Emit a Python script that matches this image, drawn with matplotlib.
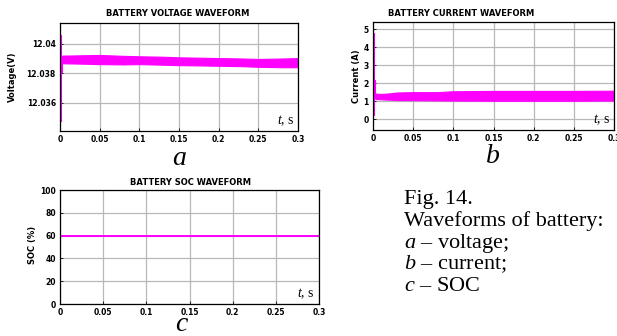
import matplotlib
matplotlib.use("Agg")
import matplotlib.pyplot as plt

plt.rcParams['mathtext.fontset'] = 'custom'
plt.rcParams['mathtext.rm'] = 'Liberation Serif'
plt.rcParams['mathtext.it'] = 'Liberation Serif:italic'

MAGENTA = '#ff00ff'
W, H = 617, 336

# --- data ---
x_ticks = [0, 0.05, 0.1, 0.15, 0.2, 0.25, 0.3]
x_labels = ['0', '0.05', '0.1', '0.15', '0.2', '0.25', '0.3']

# voltage ripple band (upper / lower envelope)
v_t = [0.003, 0.01, 0.03, 0.05, 0.08, 0.1, 0.13, 0.15, 0.18, 0.2, 0.23, 0.25, 0.28, 0.3]
v_hi = [12.03920, 12.03920, 12.03922, 12.03924, 12.03918, 12.03915, 12.03912,
        12.03908, 12.03905, 12.03903, 12.03900, 12.03897, 12.03900, 12.03903]
v_lo = [12.03868, 12.03867, 12.03865, 12.03862, 12.03860, 12.03862, 12.03858,
        12.03855, 12.03853, 12.03851, 12.03848, 12.03844, 12.03841, 12.03841]
# start-up transient of voltage
v_spike_t = [0.0012, 0.0028]
v_spike_lo = [12.0347, 12.0380]
v_spike_hi = [12.0406, 12.0392]
v_yticks = [12.036, 12.038, 12.04]
v_ylabels = ['12.036', '12.038', '12.04']

# current ripple band
i_t = [0.003, 0.01, 0.02, 0.03, 0.05, 0.08, 0.1, 0.15, 0.2, 0.25, 0.3]
i_hi = [1.42, 1.40, 1.43, 1.48, 1.50, 1.50, 1.55, 1.57, 1.57, 1.57, 1.58]
i_lo = [1.12, 1.10, 1.08, 1.06, 1.05, 1.04, 1.03, 1.02, 1.02, 1.02, 1.03]
i_spike_t = [0.0012, 0.0028]
i_spike_lo = [0.15, 1.10]
i_spike_hi = [4.80, 2.20]
i_yticks = [0, 1, 2, 3, 4, 5]

# state of charge
soc_t = [0, 0.3]
soc = [60, 60]
soc_yticks = [0, 20, 40, 60, 80, 100]

caption = ['Fig. 14.', 'Waveforms of battery:',
           '$a$ – voltage;', '$b$ – current;', '$c$ – SOC']


def px_axes(fig, left, top, right, bottom):
    return fig.add_axes([left / W, 1 - bottom / H, (right - left) / W, (bottom - top) / H])


def style(ax):
    ax.grid(True, color='#b8b8b8', lw=0.9)
    ax.set_axisbelow(True)
    for s in ax.spines.values():
        s.set_color('black')
        s.set_linewidth(0.9)
    ax.tick_params(direction='in', length=2, width=0.6, labelsize=5.5, pad=3)
    ax.set_xlim(0, 0.3)
    ax.set_xticks(x_ticks, x_labels)
    for lab in ax.get_xticklabels() + ax.get_yticklabels():
        lab.set_fontweight('bold')
    ax.text(0.985, 0.03, '$t$, s', transform=ax.transAxes, ha='right', va='bottom',
            fontsize=10, family='Liberation Serif')


def ptext(fig, x, y, s, **kw):
    fig.text(x / W, 1 - y / H, s, **kw)


fig = plt.figure(figsize=(W / 100, H / 100), dpi=100)

# a - voltage
ax1 = px_axes(fig, 60, 23, 298, 131)
ax1.fill_between(v_t, v_lo, v_hi, color=MAGENTA, lw=0.8, edgecolor=MAGENTA)
ax1.vlines(v_spike_t, v_spike_lo, v_spike_hi, color=MAGENTA, lw=1.5)
ax1.set_ylim(12.0341, 12.0414)
ax1.set_yticks(v_yticks, v_ylabels)
style(ax1)

# b - current
ax2 = px_axes(fig, 373, 22, 614, 130)
ax2.fill_between(i_t, i_lo, i_hi, color=MAGENTA, lw=0.8, edgecolor=MAGENTA)
ax2.vlines(i_spike_t, i_spike_lo, i_spike_hi, color=MAGENTA, lw=1.5)
ax2.set_ylim(-0.61, 5.41)
ax2.set_yticks(i_yticks)
style(ax2)

# c - SOC
ax3 = px_axes(fig, 60, 190, 319, 304)
ax3.plot(soc_t, soc, color=MAGENTA, lw=1.4)
ax3.set_ylim(0, 100)
ax3.set_yticks(soc_yticks)
style(ax3)

# titles and axis labels
tkw = dict(fontsize=6, fontweight='bold', ha='center', va='center')
ptext(fig, 178, 13, 'BATTERY VOLTAGE WAVEFORM', **tkw)
ptext(fig, 461, 13, 'BATTERY CURRENT WAVEFORM', **tkw)
ptext(fig, 190, 183, 'BATTERY SOC WAVEFORM', **tkw)
ptext(fig, 12, 77, 'Voltage(V)', rotation=90, **tkw)
ptext(fig, 356, 76, 'Current (A)', rotation=90, **tkw)
ptext(fig, 32, 245, 'SOC (%)', rotation=90, **tkw)

# panel letters
lkw = dict(fontsize=20, family='Liberation Serif', style='italic', ha='center', va='baseline')
ptext(fig, 179, 165, 'a', **lkw)
ptext(fig, 493, 163, 'b', **lkw)
ptext(fig, 181, 331, 'c', **lkw)

# caption
for yb, line in zip([204, 226, 248, 269, 291], caption):
    ptext(fig, 404, yb, line, fontsize=16, family='Liberation Serif', ha='left', va='baseline')

fig.savefig('out.png', dpi=100)
